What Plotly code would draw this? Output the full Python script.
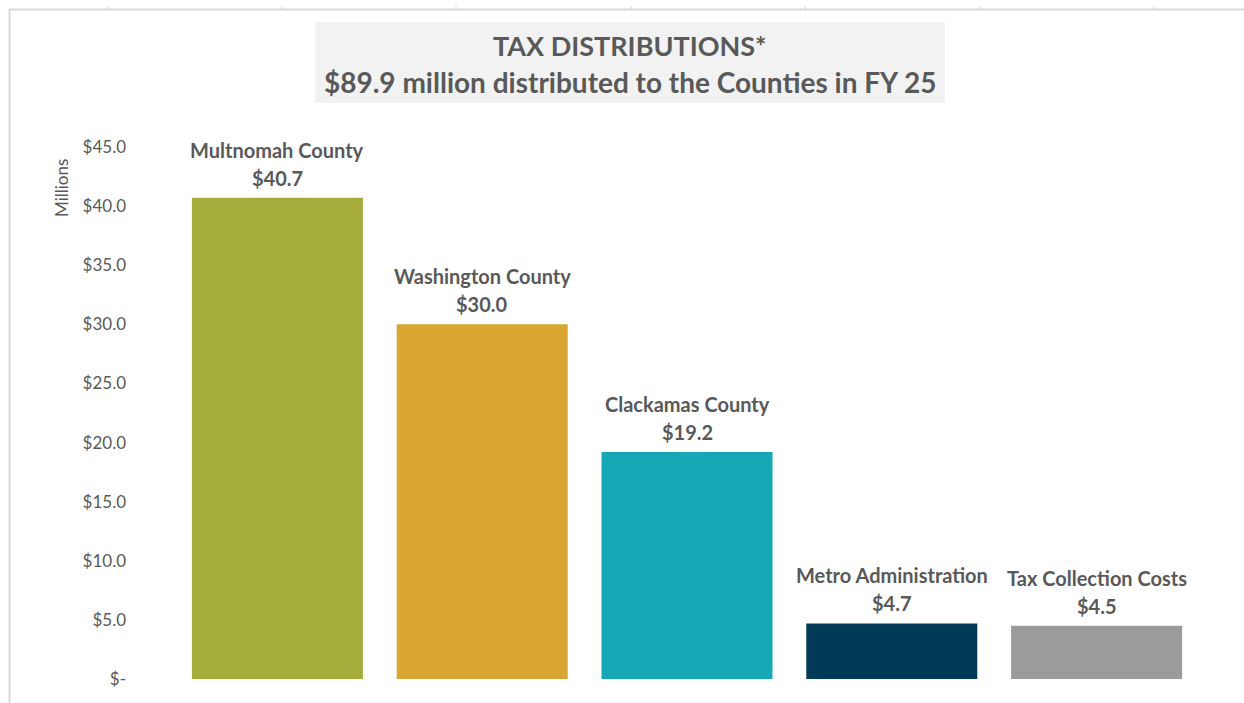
import plotly.graph_objects as go

categories = ["Multnomah County", "Washington County", "Clackamas County",
              "Metro Administration", "Tax Collection Costs"]
values = [40.7, 30.0, 19.2, 4.7, 4.5]
colors = ["#A4AD3A", "#D9A731", "#17A8B8", "#003A57", "#9A9B9D"]
tick_vals = [0, 5, 10, 15, 20, 25, 30, 35, 40, 45]
tick_text = ["$-", "$5.0", "$10.0", "$15.0", "$20.0", "$25.0", "$30.0", "$35.0", "$40.0", "$45.0"]

FONT = "Lato, 'Open Sans', sans-serif"
W, H = 1244, 703
L, R, T, B = 175, 45, 147, 24
PW, PH = W - L - R, H - T - B


def px(x):
    return (x - L) / PW


def py(y):
    return 1 - (y - T) / PH


fig = go.Figure()
fig.add_trace(go.Bar(
    x=categories, y=values,
    marker=dict(color=colors, line=dict(width=0)),
    hoverinfo="skip",
))

annotations = []
for c, v in zip(categories, values):
    annotations.append(dict(x=c, y=v, xref="x", yref="y", showarrow=False,
                            text=f"<b>{c}</b>", yanchor="middle", yshift=48,
                            font=dict(family=FONT, size=20, color="#595959")))
    annotations.append(dict(x=c, y=v, xref="x", yref="y", showarrow=False,
                            text=f"<b>${v:.1f}</b>", yanchor="middle", yshift=20,
                            font=dict(family=FONT, size=20, color="#595959")))

annotations += [
    dict(xref="paper", yref="paper", x=px(630), y=py(45),
         xanchor="center", yanchor="middle", showarrow=False,
         text="<b>TAX DISTRIBUTIONS*</b>",
         font=dict(family=FONT, size=27, color="#595959")),
    dict(xref="paper", yref="paper", x=px(630), y=py(82),
         xanchor="center", yanchor="middle", showarrow=False,
         text="<b>$89.9 million distributed to the Counties in FY 25</b>",
         font=dict(family=FONT, size=28, color="#595959")),
    dict(xref="paper", yref="paper", x=px(62), y=py(188),
         xanchor="center", yanchor="middle", showarrow=False,
         text="Millions", textangle=-90,
         font=dict(family=FONT, size=17, color="#595959")),
]

shapes = [
    dict(type="rect", xref="paper", yref="paper",
         x0=px(315), x1=px(945), y0=py(103), y1=py(22),
         fillcolor="#F2F2F2", line=dict(width=0), layer="below"),
    dict(type="line", xref="paper", yref="paper",
         x0=px(9), x1=px(W), y0=py(9.5), y1=py(9.5),
         line=dict(color="#D9D9D9", width=2)),
    dict(type="line", xref="paper", yref="paper",
         x0=px(9.5), x1=px(9.5), y0=py(9.5), y1=py(H),
         line=dict(color="#D9D9D9", width=2)),
]
for sx in [108, 282, 456, 631, 805, 980, 1154]:
    shapes.append(dict(type="line", xref="paper", yref="paper",
                       x0=px(sx), x1=px(sx), y0=py(6.5), y1=py(9),
                       line=dict(color="#CCCCCC", width=1)))

fig.update_layout(
    width=W, height=H,
    paper_bgcolor="white", plot_bgcolor="white",
    margin=dict(l=L, r=R, t=T, b=B),
    bargap=0.165,
    showlegend=False,
    font=dict(family=FONT, color="#595959"),
    xaxis=dict(showticklabels=False, showline=False, showgrid=False, zeroline=False),
    yaxis=dict(range=[0, 45], tickvals=tick_vals, ticktext=tick_text,
               showgrid=False, zeroline=False, showline=False,
               ticks="", ticklabelstandoff=48,
               tickfont=dict(family=FONT, size=17, color="#595959")),
    shapes=shapes,
    annotations=annotations,
)

fig.write_html("out.html", config={"displayModeBar": False},
               post_script="document.body.style.margin='0';document.body.style.overflow='hidden';")
